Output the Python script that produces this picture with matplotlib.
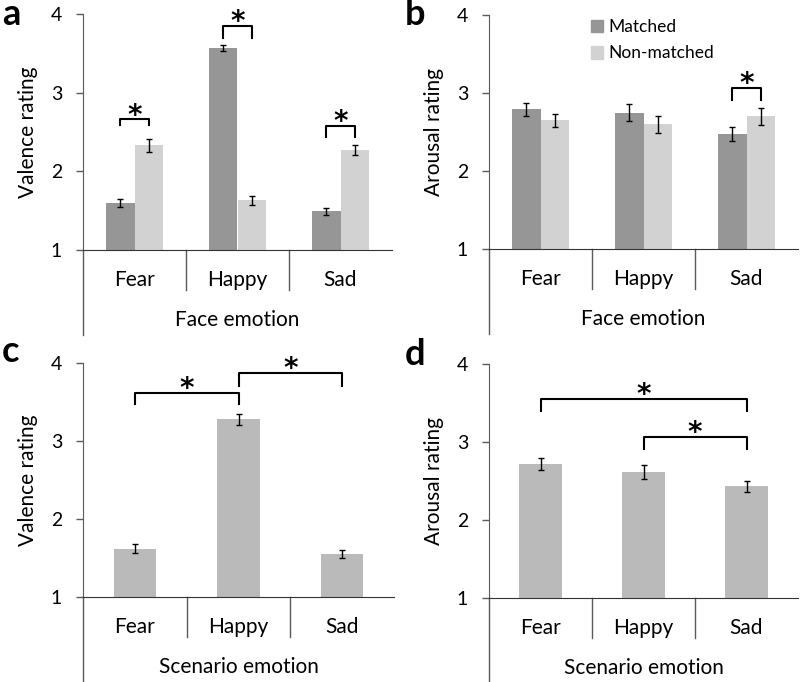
import matplotlib
matplotlib.use('Agg')
import matplotlib.pyplot as plt
import matplotlib.transforms as mtransforms
from matplotlib.patches import Patch
import numpy as np

plt.rcParams['font.family'] = ['Lato', 'DejaVu Sans']

# data
categories = ['Fear', 'Happy', 'Sad']

# panel a: valence by face emotion
val_face_matched = [1.60, 3.57, 1.49]
val_face_matched_err = [0.05, 0.04, 0.05]
val_face_nonmatched = [2.33, 1.63, 2.27]
val_face_nonmatched_err = [0.08, 0.06, 0.06]

# panel b: arousal by face emotion
aro_face_matched = [2.79, 2.75, 2.47]
aro_face_matched_err = [0.08, 0.11, 0.09]
aro_face_nonmatched = [2.65, 2.60, 2.70]
aro_face_nonmatched_err = [0.08, 0.11, 0.11]

# panel c/d: scenario emotion
val_scen = [1.62, 3.28, 1.55]
val_scen_err = [0.06, 0.07, 0.05]
aro_scen = [2.72, 2.62, 2.43]
aro_scen_err = [0.08, 0.09, 0.07]

# significance brackets: (x1, x2, top, leg_bottom)
sig_a = [(0, 0, 2.66, 2.59), (1, 1, 3.85, 3.69), (2, 2, 2.58, 2.44)]
sig_b = [(2, 2, 3.06, 2.91)]
sig_c = [(0, 1, 3.62, 3.47), (1, 2, 3.87, 3.71)]
sig_d = [(0, 2, 3.55, 3.40), (1, 2, 3.06, 2.91)]

dark = '#969696'
light = '#d2d2d2'
mid = '#bababa'
axcol = '#5a5a5a'

W, H = 800, 682
fig = plt.figure(figsize=(W / 100, H / 100), dpi=100)


def px_axes(left, right, top, bottom):
    return fig.add_axes([left / W, 1 - bottom / H, (right - left) / W, (bottom - top) / H])


def setup(ax, ylabel, xlabel):
    ax.set_xlim(0, 3)
    ax.set_ylim(1, 4)
    ax.set_yticks([1, 2, 3, 4])
    ax.tick_params(axis='y', labelsize=14, length=5, color=axcol, width=1, pad=10)
    ax.set_xticks([])
    for s in ['top', 'right']:
        ax.spines[s].set_visible(False)
    ax.spines['left'].set_color(axcol)
    ax.spines['bottom'].set_color('#333333')
    ax.set_ylabel(ylabel, fontsize=15, labelpad=9)
    # multi-level category axis
    hpx = ax.get_position().height * H
    tr = mtransforms.blended_transform_factory(ax.transData, ax.transAxes)
    ax.plot([0, 0], [0, -85 / hpx], color=axcol, lw=1, transform=tr, clip_on=False)
    for i in range(1, 3):
        ax.plot([i, i], [0, -40 / hpx], color=axcol, lw=1, transform=tr, clip_on=False)
    for i, c in enumerate(categories):
        ax.text(i + 0.5, -30 / hpx, c, transform=tr, ha='center', va='center', fontsize=15)
    ax.text(1.5, -70 / hpx, xlabel, transform=tr, ha='center', va='center', fontsize=15)


def brackets(ax, sigs, offset):
    for x1, x2, top, low in sigs:
        xa = x1 + 0.5 - offset
        xb = x2 + 0.5 + offset
        ax.plot([xa, xa, xb, xb], [low, top, top, low], color='black', lw=1.5, clip_on=False)
        ax.annotate('*', xy=((xa + xb) / 2, top), xytext=(0, -3), textcoords='offset points',
                    ha='center', va='baseline', fontsize=20, fontweight='bold',
                    family='DejaVu Sans', annotation_clip=False)


def grouped(ax, m, me, n, ne):
    x = np.arange(3) + 0.5
    w = 0.28
    ax.bar(x - w / 2, np.array(m) - 1, w, bottom=1, color=dark, label='Matched')
    ax.bar(x + w / 2, np.array(n) - 1, w, bottom=1, color=light, label='Non-matched')
    ax.errorbar(x - w / 2, m, yerr=me, fmt='none', ecolor='black', elinewidth=1, capsize=2.5)
    ax.errorbar(x + w / 2, n, yerr=ne, fmt='none', ecolor='black', elinewidth=1, capsize=2.5)


def single(ax, v, e):
    x = np.arange(3) + 0.5
    ax.bar(x, np.array(v) - 1, 0.41, bottom=1, color=mid)
    ax.errorbar(x, v, yerr=e, fmt='none', ecolor='black', elinewidth=1, capsize=2.5)


def letter(x, y_base, s):
    fig.text(x / W, 1 - y_base / H, s, fontsize=26, fontweight='bold', ha='left', va='baseline')


ax_a = px_axes(83, 392, 14, 250)
grouped(ax_a, val_face_matched, val_face_matched_err, val_face_nonmatched, val_face_nonmatched_err)
brackets(ax_a, sig_a, 0.14)
setup(ax_a, 'Valence rating', 'Face emotion')
letter(2, 25, 'a')

ax_b = px_axes(489, 798, 15, 249)
grouped(ax_b, aro_face_matched, aro_face_matched_err, aro_face_nonmatched, aro_face_nonmatched_err)
brackets(ax_b, sig_b, 0.14)
setup(ax_b, 'Arousal rating', 'Face emotion')
letter(405, 25, 'b')
handles = [Patch(color=dark, label='Matched'), Patch(color=light, label='Non-matched')]
ax_b.legend(handles=handles, loc='upper left', bbox_to_anchor=(0.29, 1.035), frameon=False,
            fontsize=12.5, handlelength=0.7, handleheight=0.75, handletextpad=0.3,
            labelspacing=0.6, borderpad=0.2)

ax_c = px_axes(83, 394, 363, 597)
single(ax_c, val_scen, val_scen_err)
brackets(ax_c, sig_c, 0.0)
setup(ax_c, 'Valence rating', 'Scenario emotion')
letter(2, 362, 'c')

ax_d = px_axes(489, 798, 364, 598)
single(ax_d, aro_scen, aro_scen_err)
brackets(ax_d, sig_d, 0.0)
setup(ax_d, 'Arousal rating', 'Scenario emotion')
letter(405, 365, 'd')

fig.savefig('out.png', dpi=100)
